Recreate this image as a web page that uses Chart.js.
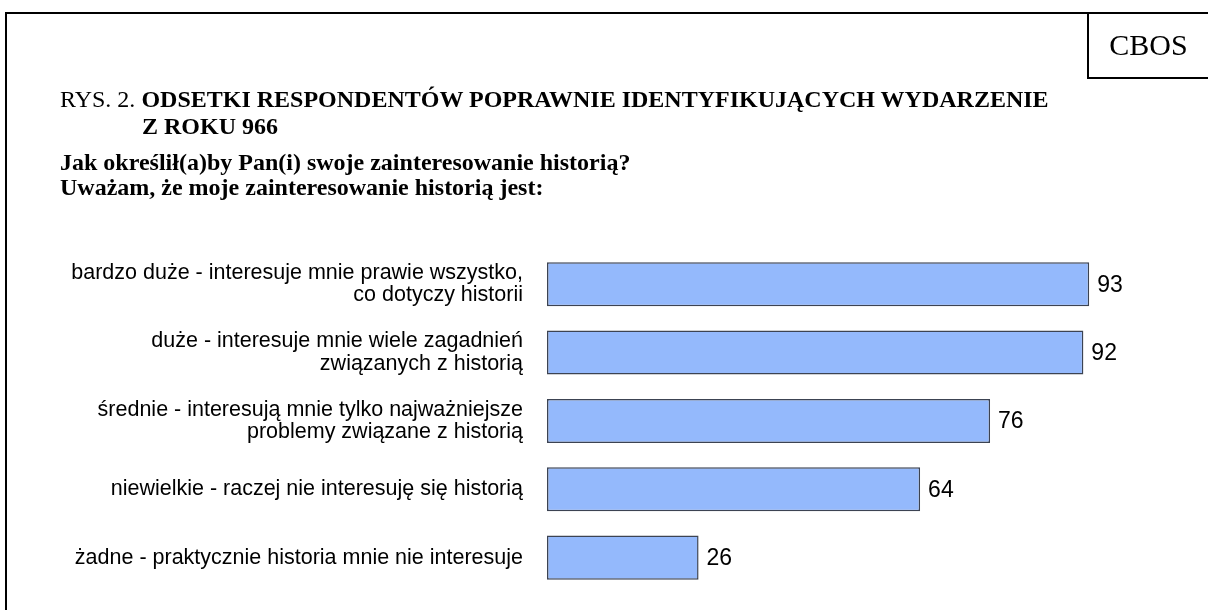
<!DOCTYPE html>
<html lang="pl">
<head>
    <meta charset="UTF-8">
    <title>CBOS - Rys. 2</title>
    <script src="https://cdn.jsdelivr.net/npm/chart.js"></script>
    <style>
        html, body {
            margin: 0;
            padding: 0;
            background: #fff;
        }

        #wrap {
            position: relative;
            width: 1208px;
            height: 610px;
            overflow: hidden;
        }

        #chart {
            position: absolute;
            left: 0;
            top: 0;
        }

        .frameTop {
            position: absolute;
            left: 5px;
            top: 12px;
            width: 1203px;
            height: 2px;
            background: #000;
        }

        .frameLeft {
            position: absolute;
            left: 5px;
            top: 12px;
            width: 2px;
            height: 600px;
            background: #000;
        }

        .cbos {
            position: absolute;
            left: 1087px;
            top: 12px;
            width: 121px;
            height: 67px;
            border-left: 2px solid #000;
            border-bottom: 2px solid #000;
            font-family: 'Liberation Serif', 'Times New Roman', serif;
            font-size: 30px;
            line-height: 65px;
            text-align: center;
            box-sizing: border-box;
        }

        .txt {
            position: absolute;
            font-family: 'Liberation Serif', 'Times New Roman', serif;
            font-size: 24px;
            line-height: 28px;
            white-space: nowrap;
            color: #000;
        }
    </style>
</head>
<body>

<div id="wrap">
    <canvas id="chart" width="1208" height="638"></canvas>
    <div class="frameTop"></div>
    <div class="frameLeft"></div>
    <div class="cbos">CBOS</div>
    <div class="txt" style="left:60px; top:85px;">RYS. 2. <b>ODSETKI RESPONDENTÓW POPRAWNIE IDENTYFIKUJĄCYCH WYDARZENIE</b></div>
    <div class="txt" style="left:142px; top:112px;"><b>Z ROKU 966</b></div>
    <div class="txt" style="left:60px; top:148px;"><b>Jak określił(a)by Pan(i) swoje zainteresowanie historią?</b></div>
    <div class="txt" style="left:60px; top:173px;"><b>Uważam, że moje zainteresowanie historią jest:</b></div>
</div>

<script>
    // answer categories (multi-line labels)
    const categories = [
        ['bardzo duże - interesuje mnie prawie wszystko,', 'co dotyczy historii'],
        ['duże - interesuje mnie wiele zagadnień', 'związanych z historią'],
        ['średnie - interesują mnie tylko najważniejsze', 'problemy związane z historią'],
        'niewielkie - raczej nie interesuję się historią',
        'żadne - praktycznie historia mnie nie interesuje'
    ];

    // percent identifying the event correctly
    const values = [93, 92, 76, 64, 26];

    // draw value next to each bar
    const valueLabels = {
        id: 'valueLabels',
        afterDatasetsDraw(chart) {
            const ctx = chart.ctx;
            const meta = chart.getDatasetMeta(0);
            ctx.save();
            ctx.font = '23px "Liberation Sans", Arial, sans-serif';
            ctx.fillStyle = '#000';
            ctx.textAlign = 'left';
            ctx.textBaseline = 'middle';
            meta.data.forEach((bar, i) => {
                ctx.fillText(values[i], bar.x + 8, bar.y + 1);
            });
            ctx.restore();
        }
    };

    const ctx = document.getElementById('chart').getContext('2d');
    new Chart(ctx, {
        type: 'bar',
        data: {
            labels: categories,
            datasets: [{
                data: values,
                backgroundColor: '#94B9FC',
                borderColor: '#3C4352',
                borderWidth: 1.5,
                borderSkipped: false,
                barPercentage: 0.645,
                categoryPercentage: 1
            }]
        },
        options: {
            indexAxis: 'y',
            responsive: false,
            animation: false,
            layout: {
                padding: { top: 250, bottom: 0, left: 0, right: 1208 - 547 - 583 }
            },
            plugins: {
                legend: { display: false },
                tooltip: { enabled: false }
            },
            scales: {
                x: {
                    display: false,
                    min: 0,
                    max: 100
                },
                y: {
                    afterFit(scale) {
                        scale.width = 547;
                    },
                    border: { display: false },
                    grid: { display: false, drawTicks: false },
                    ticks: {
                        padding: 24,
                        color: '#000',
                        font: { family: '"Liberation Sans", Arial, sans-serif', size: 21.5, lineHeight: 1.03 }
                    }
                }
            }
        },
        plugins: [valueLabels]
    });
</script>

</body>
</html>
